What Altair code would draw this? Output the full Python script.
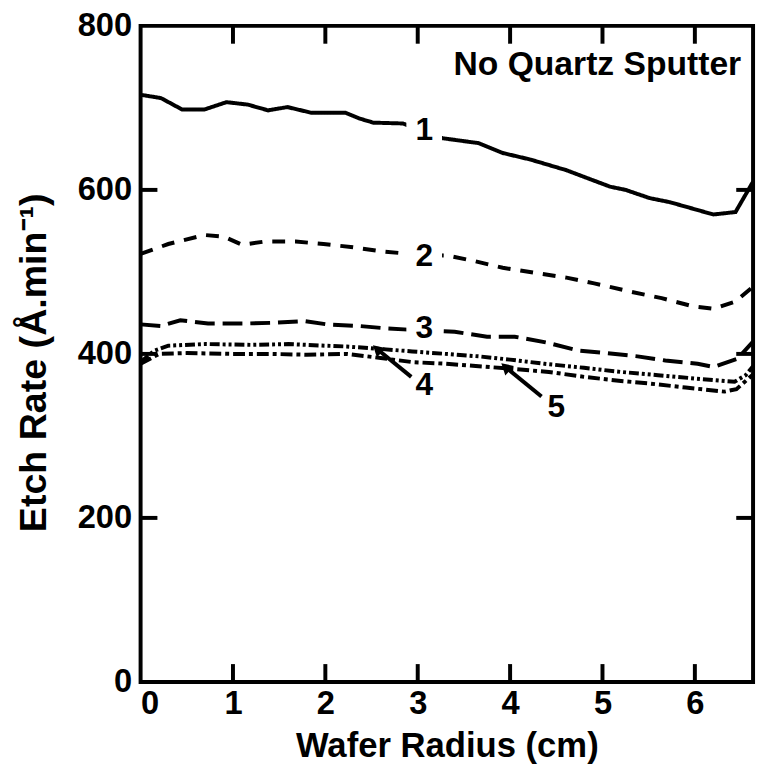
import altair as alt
import pandas as pd

# ---- data ----
radius_1 = [0, 0.22, 0.45, 0.69, 0.93, 1.16, 1.38, 1.59, 1.85, 2.22, 2.37, 2.52, 2.84, 3.27, 3.66, 3.92, 4.22, 4.61, 5.08, 5.25, 5.51, 5.73, 6.2, 6.44, 6.63]
rate_1 = [716, 712, 698, 698, 707, 704, 697, 701, 694, 694, 687, 682, 681, 663, 657, 645, 637, 624, 604, 600, 590, 585, 570, 573, 610]

radius_2 = [0, 0.30, 0.69, 0.90, 1.10, 1.34, 1.68, 1.98, 2.30, 2.62, 3.0, 3.32, 3.62, 3.92, 4.26, 4.61, 4.91, 5.30, 5.64, 5.98, 6.20, 6.44, 6.63]
rate_2 = [522, 534, 545, 543, 533, 537, 537, 534, 530, 525, 521, 520, 513, 505, 499, 493, 486, 476, 468, 458, 455, 464, 482]

radius_3 = [0, 0.22, 0.43, 0.73, 1.12, 1.46, 1.77, 2.02, 2.37, 2.67, 3.0, 3.40, 3.75, 4.05, 4.39, 4.74, 5.04, 5.38, 5.68, 6.03, 6.20, 6.46, 6.63]
rate_3 = [436, 434, 441, 437, 437, 438, 440, 436, 434, 431, 429, 427, 421, 421, 414, 404, 401, 397, 392, 388, 384, 394, 415]

radius_4 = [0, 0.15, 0.3, 0.7, 1.2, 1.6, 2.0, 2.23, 2.6, 2.94, 3.3, 3.66, 4.0, 4.37, 4.8, 5.2, 5.6, 6.0, 6.43, 6.55, 6.63]
rate_4 = [390, 404, 410, 412, 411, 412, 410, 409, 406, 403, 400, 397, 393, 388, 383, 378, 374, 370, 366, 374, 385]

radius_5 = [0, 0.2, 0.5, 1.0, 1.4, 1.8, 2.23, 2.6, 2.94, 3.3, 3.66, 4.0, 4.42, 4.8, 5.2, 5.5, 5.9, 6.32, 6.45, 6.63]
rate_5 = [388, 400, 401, 400, 400, 399, 400, 395, 390, 388, 385, 382, 378, 372, 367, 364, 359, 354, 357, 375]

series_names = ["1", "2", "3", "4", "5"]

label_text = ["1", "2", "3", "4", "5"]
label_radius = [3.07, 3.07, 3.07, 3.07, 4.5]
label_rate = [673, 519, 431, 362, 335]

arrow_id = ["4", "4", "5", "5"]
arrow_radius = [2.93, 2.56, 4.34, 3.95]
arrow_rate = [372, 406, 348, 384]
arrowhead_radius = [2.56, 3.95]
arrowhead_rate = [406, 384]

x_ticks = [1, 2, 3, 4, 5, 6]
y_ticks = [200, 400, 600]

x_title = "Wafer Radius (cm)"
y_title = "Etch Rate (Å.min⁻¹)"
note = "No Quartz Sputter"

# ---- tables ----
rows = []
for name, rs, es in zip(series_names,
                        [radius_1, radius_2, radius_3, radius_4, radius_5],
                        [rate_1, rate_2, rate_3, rate_4, rate_5]):
    for r, e in zip(rs, es):
        rows.append({"series": name, "radius": r, "rate": e})
df = pd.DataFrame(rows)

labels = pd.DataFrame({"label": label_text, "radius": label_radius, "rate": label_rate})
arrows = pd.DataFrame({"arrow": arrow_id, "radius": arrow_radius, "rate": arrow_rate})
heads = pd.DataFrame({"radius": arrowhead_radius, "rate": arrowhead_rate})
xt = pd.DataFrame({"radius": x_ticks})
yt = pd.DataFrame({"rate": y_ticks})

W, H = 619, 663
FONT = "Liberation Sans"

xs = alt.Scale(domain=[0, 6.63], nice=False, zero=False)
ys = alt.Scale(domain=[0, 800], nice=False)

xaxis = alt.Axis(values=[0, 1, 2, 3, 4, 5, 6], format="d", labelPadding=6,
                 titleY=47, titleBaseline="top", titleFontSize=35)
yaxis = alt.Axis(values=[0, 200, 400, 600, 800], format="d", labelPadding=9,
                 titleX=-88, titleY=340, titleBaseline="bottom", titleFontSize=38)

X = alt.X("radius:Q", scale=xs, axis=xaxis, title=x_title)
Y = alt.Y("rate:Q", scale=ys, axis=yaxis, title=y_title)

lines = alt.Chart(df).mark_line(color="black", strokeWidth=4, strokeCap="butt", clip=True).encode(
    x=X, y=Y,
    strokeDash=alt.StrokeDash("series:N", legend=None,
                              scale=alt.Scale(domain=series_names,
                                              range=[[1, 0], [13, 10], [20, 8], [10, 3, 3, 3, 3, 3], [12, 4, 4, 4]])),
    detail="series:N",
)

gaps = alt.Chart(labels.iloc[:3]).mark_square(color="white", opacity=1, size=1300, filled=True).encode(x=X, y=Y)

texts = alt.Chart(labels).mark_text(font=FONT, fontWeight="bold", fontSize=32, color="black",
                                    align="center", baseline="middle").encode(x=X, y=Y, text="label:N")

shafts = alt.Chart(arrows).mark_line(color="black", strokeWidth=4).encode(x=X, y=Y, detail="arrow:N")
tips = alt.Chart(heads).mark_point(shape="triangle-up", filled=True, color="black", opacity=1,
                                   size=170, angle=312).encode(x=X, y=Y)

bottom_ticks = alt.Chart(xt).mark_rule(color="black", strokeWidth=4).encode(
    x=X, y=alt.value(H), y2=alt.value(H - 18))
top_ticks = alt.Chart(xt).mark_rule(color="black", strokeWidth=4).encode(
    x=X, y=alt.value(0), y2=alt.value(18))
left_ticks = alt.Chart(yt).mark_rule(color="black", strokeWidth=4).encode(
    y=Y, x=alt.value(0), x2=alt.value(17))
right_ticks = alt.Chart(yt).mark_rule(color="black", strokeWidth=4).encode(
    y=Y, x=alt.value(W), x2=alt.value(W - 17))

note_chart = alt.Chart(pd.DataFrame({"t": [note]})).mark_text(
    font=FONT, fontWeight="bold", fontSize=34, color="black", align="right", baseline="middle"
).encode(text="t:N", x=alt.value(607), y=alt.value(40))

chart = alt.layer(lines, gaps, texts, shafts, tips, bottom_ticks, top_ticks, left_ticks, right_ticks,
                  note_chart).properties(
    width=W, height=H,
    padding={"left": 134, "top": 14, "right": 6, "bottom": 90},
    autosize=alt.AutoSizeParams(type="none"),
    background="white",
).configure_view(
    stroke="black", strokeWidth=4
).configure_axis(
    domain=False, ticks=False, grid=False,
    labelFont=FONT, labelFontWeight="bold", labelFontSize=33, labelColor="black",
    titleFont=FONT, titleFontWeight="bold", titleColor="black",
)

chart.save("out.html", embed_options={"renderer": "svg", "actions": False})
